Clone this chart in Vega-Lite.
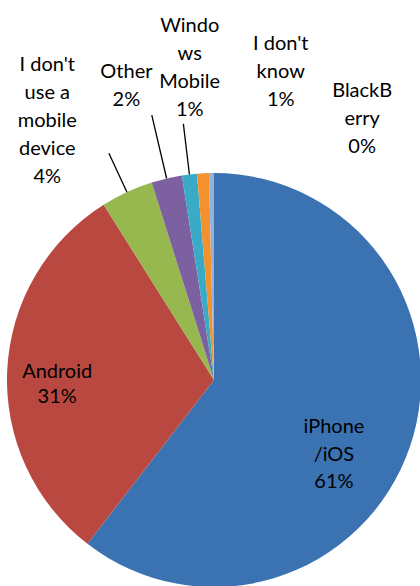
{
  "$schema": "https://vega.github.io/schema/vega-lite/v6.json",
  "width": 412,
  "height": 412,
  "autosize": "none",
  "padding": {"left": 8, "top": 174, "right": 0, "bottom": 0},
  "background": "white",
  "data": {
    "values": [
      {"device": "iPhone/iOS", "share": 60.5, "label": "iPhone\n/iOS\n61%"},
      {"device": "Android", "share": 30.6, "label": "Android\n31%"},
      {"device": "I don't use a mobile device", "share": 4.08, "label": "I don't\nuse a\nmobile\ndevice\n4%"},
      {"device": "Other", "share": 2.39, "label": "Other\n2%"},
      {"device": "Windows Mobile", "share": 1.17, "label": "Windo\nws\nMobile\n1%"},
      {"device": "I don't know", "share": 0.92, "label": "I don't\nknow\n1%"},
      {"device": "BlackBerry", "share": 0.39, "label": "BlackB\nerry\n0%"}
    ]
  },
  "encoding": {
    "theta": {"field": "share", "type": "quantitative", "stack": true},
    "order": {"field": "share", "sort": "descending"},
    "detail": {"field": "device", "type": "nominal"}
  },
  "layer": [
    {
      "mark": {"type": "arc", "outerRadius": 207},
      "encoding": {
        "color": {
          "field": "device",
          "type": "nominal",
          "legend": null,
          "scale": {
            "domain": ["iPhone/iOS", "Android", "I don't use a mobile device", "Other", "Windows Mobile", "I don't know", "BlackBerry"],
            "range": ["#3B72B2", "#B84840", "#97B74F", "#7D60A0", "#3AABC6", "#F3912E", "#96B0D8"]
          }
        }
      }
    },
    {
      "mark": {"type": "arc", "innerRadius": 207, "outerRadius": 250, "padAngle": 1, "filled": false, "stroke": "black", "strokeWidth": 1.3},
      "encoding": {
        "strokeOpacity": {"condition": {"test": "datum.device === \"I don't use a mobile device\"", "value": 1}, "value": 0}
      }
    },
    {
      "mark": {"type": "arc", "innerRadius": 207, "outerRadius": 272, "padAngle": 1, "filled": false, "stroke": "black", "strokeWidth": 1.3},
      "encoding": {
        "strokeOpacity": {"condition": {"test": "datum.device === 'Other'", "value": 1}, "value": 0}
      }
    },
    {
      "mark": {"type": "arc", "innerRadius": 207, "outerRadius": 258, "padAngle": 1, "filled": false, "stroke": "black", "strokeWidth": 1.3},
      "encoding": {
        "strokeOpacity": {"condition": {"test": "datum.device === 'Windows Mobile'", "value": 1}, "value": 0}
      }
    },
    {
      "mark": {"type": "text", "radius": 150, "dx": -22, "dy": -1, "lineHeight": 27.5},
      "encoding": {"text": {"condition": {"test": "datum.device === 'iPhone/iOS'", "field": "label"}, "value": ""}}
    },
    {
      "mark": {"type": "text", "radius": 150, "dx": -7, "dy": -1, "lineHeight": 25},
      "encoding": {"text": {"condition": {"test": "datum.device === 'Android'", "field": "label"}, "value": ""}}
    },
    {
      "mark": {"type": "text", "radius": 230, "dx": -70, "dy": -106},
      "encoding": {"text": {"condition": {"test": "datum.device === \"I don't use a mobile device\"", "field": "label"}, "value": ""}}
    },
    {
      "mark": {"type": "text", "radius": 230, "dx": -35, "dy": -84},
      "encoding": {"text": {"condition": {"test": "datum.device === 'Other'", "field": "label"}, "value": ""}}
    },
    {
      "mark": {"type": "text", "radius": 230, "dx": 3, "dy": -126},
      "encoding": {"text": {"condition": {"test": "datum.device === 'Windows Mobile'", "field": "label"}, "value": ""}}
    },
    {
      "mark": {"type": "text", "radius": 230, "dx": 79, "dy": -106},
      "encoding": {"text": {"condition": {"test": "datum.device === \"I don't know\"", "field": "label"}, "value": ""}}
    },
    {
      "mark": {"type": "text", "radius": 230, "dx": 151, "dy": -59},
      "encoding": {"text": {"condition": {"test": "datum.device === 'BlackBerry'", "field": "label"}, "value": ""}}
    }
  ],
  "config": {
    "view": {"stroke": null},
    "text": {"font": "Lato", "fontSize": 20, "color": "black", "lineBreak": "\n", "lineHeight": 28, "align": "center", "baseline": "middle"}
  }
}
